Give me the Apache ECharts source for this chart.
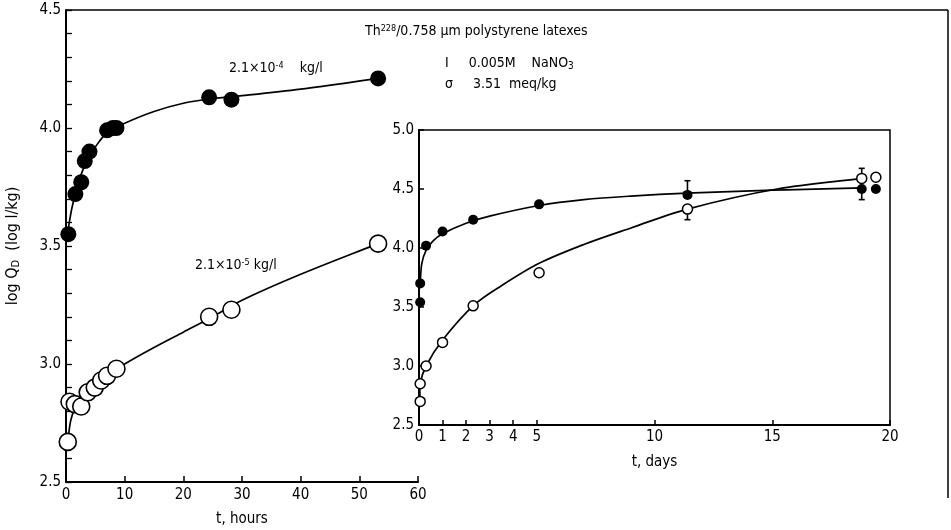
<!DOCTYPE html>
<html>
<head>
<meta charset="utf-8">
<script src="https://cdn.jsdelivr.net/npm/echarts@6/dist/echarts.min.js"></script>
<style>
html,body{margin:0;padding:0;background:#fff;}
#chart{width:951px;height:530px;}
</style>
</head>
<body>
<div id="chart"></div>
<script>
// ---------- Main plot (t, hours) ----------
const mainFilledPts = [[0.4,3.55],[1.6,3.72],[2.6,3.77],[3.2,3.86],[4.0,3.90],[7.0,3.99],[8.0,4.00],[8.6,4.00],[24.4,4.13],[28.2,4.12],[53.2,4.21]];
const mainOpenPts = [[0.3,2.67],[0.6,2.84],[1.5,2.83],[2.6,2.82],[3.7,2.88],[4.9,2.90],[6.0,2.93],[7.0,2.95],[8.6,2.98],[24.4,3.20],[28.2,3.23],[53.2,3.51]];
const mainFilledCurve = [[0.3,3.56],[1,3.66],[2,3.76],[3,3.83],[4,3.88],[5,3.92],[7,3.98],[10,4.02],[15,4.07],[20,4.105],[25,4.125],[30,4.137],[40,4.165],[53.2,4.21]];
const mainOpenCurve = [[0.3,2.67],[0.8,2.76],[1.5,2.81],[3,2.86],[5,2.905],[7,2.95],[10,3.0],[15,3.07],[20,3.135],[25,3.2],[30,3.27],[40,3.38],[53.2,3.51]];
const mainXTicks = [0,10,20,30,40,50,60];
const mainYTicks = [2.5,3.0,3.5,4.0,4.5];

// ---------- Inset plot (t, days) ----------
const insetFilledPts = [[0.05,3.54],[0.05,3.70],[0.3,4.02],[1.0,4.14],[2.3,4.24],[5.1,4.37],[11.4,4.45],[18.8,4.50],[19.4,4.50]];
const insetOpenPts = [[0.05,2.70],[0.05,2.85],[0.3,3.00],[1.0,3.20],[2.3,3.51],[5.1,3.79],[11.4,4.33],[18.8,4.59],[19.4,4.60]];
const insetFilledCurve = [[0.05,3.70],[0.12,3.87],[0.3,3.98],[0.6,4.06],[1,4.12],[2,4.21],[3,4.27],[5.1,4.36],[7,4.41],[9,4.44],[11.4,4.465],[15,4.49],[18.8,4.51]];
const insetOpenCurve = [[0.05,2.70],[0.05,2.85],[0.3,3.0],[1.0,3.22],[2.3,3.51],[3.5,3.68],[5.1,3.87],[7,4.03],[9,4.17],[11.4,4.33],[15.2,4.50],[18.8,4.59]];
const insetFilledErr = [[11.4,4.45,4.57],[18.8,4.41,4.50]];
const insetOpenErr = [[11.4,4.24,4.33],[18.8,4.59,4.675]];
const insetXTicks = [0,1,2,3,4,5,10,15,20];
const insetYTicks = [2.5,3.0,3.5,4.0,4.5,5.0];

const FONT = "'Liberation Sans Narrow','DejaVu Sans Condensed','Liberation Sans',sans-serif";
const chart = echarts.init(document.getElementById('chart'), null, {renderer:'canvas'});

function errRender(params, api){
  const x = api.value(0), lo = api.value(1), hi = api.value(2);
  const p1 = api.coord([x, lo]), p2 = api.coord([x, hi]);
  const st = {stroke:'#000', lineWidth:1.6};
  return {type:'group', children:[
    {type:'line', shape:{x1:p1[0],y1:p1[1],x2:p2[0],y2:p2[1]}, style:st},
    {type:'line', shape:{x1:p1[0]-3,y1:p1[1],x2:p1[0]+3,y2:p1[1]}, style:st},
    {type:'line', shape:{x1:p2[0]-3,y1:p2[1],x2:p2[0]+3,y2:p2[1]}, style:st}
  ]};
}

// smooth curve through the read-off curve points, converted with the axis scales
function curveRender(arr){
  return function(params, api){
    if (params.dataIndex !== 0) return null;
    const P = arr.map(d => api.coord(d));
    const n = P.length;
    const T = P.map((p,i) => {
      const a = P[Math.max(0,i-1)], b = P[Math.min(n-1,i+1)];
      const dx = b[0]-a[0], dy = b[1]-a[1];
      const L = Math.hypot(dx,dy) || 1;
      return [dx/L, dy/L];
    });
    let d = 'M' + P[0][0] + ' ' + P[0][1];
    for (let i=0;i<n-1;i++){
      const len = Math.hypot(P[i+1][0]-P[i][0], P[i+1][1]-P[i][1]) / 3;
      const c1 = [P[i][0]+T[i][0]*len, P[i][1]+T[i][1]*len];
      const c2 = [P[i+1][0]-T[i+1][0]*len, P[i+1][1]-T[i+1][1]*len];
      d += ' C' + c1[0] + ' ' + c1[1] + ' ' + c2[0] + ' ' + c2[1] + ' ' + P[i+1][0] + ' ' + P[i+1][1];
    }
    return {type:'path', shape:{pathData:d}, style:{fill:null, stroke:'#000', lineWidth:1.7}};
  };
}

const axisLbl = {color:'#000', fontFamily:FONT, fontSize:15};

chart.setOption({
  animation:false,
  backgroundColor:'#fff',
  textStyle:{fontFamily:FONT},
  grid:[
    {left:66, top:10, width:352, height:472, show:false, containLabel:false, outerBoundsMode:'none'},
    {left:419, top:130, width:471, height:295, show:true, backgroundColor:'#fff', borderColor:'#000', borderWidth:1.5, containLabel:false, outerBoundsMode:'none'}
  ],
  xAxis:[
    {type:'value', gridIndex:0, min:0, max:60, interval:10,
     name:'t, hours', nameLocation:'middle', nameGap:30,
     nameTextStyle:{color:'#000', fontFamily:FONT, fontSize:15},
     axisLine:{lineStyle:{color:'#000', width:2}},
     axisTick:{inside:true, length:6, lineStyle:{color:'#000', width:1.5}, customValues:mainXTicks},
     axisLabel:Object.assign({margin:6, customValues:mainXTicks}, axisLbl),
     splitLine:{show:false}},
    {type:'value', gridIndex:1, min:0, max:20, interval:5,
     name:'t, days', nameLocation:'middle', nameGap:30,
     nameTextStyle:{color:'#000', fontFamily:FONT, fontSize:15},
     axisLine:{lineStyle:{color:'#000', width:2}},
     axisTick:{inside:true, length:5, lineStyle:{color:'#000', width:1.5}, customValues:insetXTicks},
     axisLabel:Object.assign({margin:5, customValues:insetXTicks}, axisLbl),
     splitLine:{show:false}}
  ],
  yAxis:[
    {type:'value', gridIndex:0, min:2.5, max:4.5, interval:0.5,
     name:'{a|log Q}{s|D}{a|  (log l/kg)}', nameLocation:'middle', nameGap:44, nameRotate:90,
     nameTextStyle:{rich:{a:{color:'#000', fontFamily:FONT, fontSize:16}, s:{color:'#000', fontFamily:FONT, fontSize:11, verticalAlign:'bottom', padding:[7,0,0,0]}}},
     axisLine:{lineStyle:{color:'#000', width:2}},
     axisTick:{inside:true, length:6, lineStyle:{color:'#000', width:1.3}},
     minorTick:{show:true, splitNumber:5, length:6, lineStyle:{color:'#000', width:1.3}},
     axisLabel:Object.assign({margin:5, formatter:v=>v.toFixed(1), customValues:mainYTicks}, axisLbl),
     splitLine:{show:false}, minorSplitLine:{show:false}},
    {type:'value', gridIndex:1, min:2.5, max:5.0, interval:0.5,
     axisLine:{lineStyle:{color:'#000', width:2}},
     axisTick:{inside:true, length:5, lineStyle:{color:'#000', width:1.5}},
     axisLabel:Object.assign({margin:5, formatter:v=>v.toFixed(1), customValues:insetYTicks}, axisLbl),
     splitLine:{show:false}}
  ],
  series:[
    {type:'custom', xAxisIndex:0, yAxisIndex:0, data:mainFilledCurve, renderItem:curveRender(mainFilledCurve), z:2},
    {type:'custom', xAxisIndex:0, yAxisIndex:0, data:mainOpenCurve, renderItem:curveRender(mainOpenCurve), z:2},
    {type:'scatter', xAxisIndex:0, yAxisIndex:0, data:mainFilledPts, symbol:'circle', symbolSize:16, itemStyle:{color:'#000', opacity:1}, z:3},
    {type:'scatter', xAxisIndex:0, yAxisIndex:0, data:mainOpenPts, symbol:'circle', symbolSize:17, itemStyle:{color:'#fff', borderColor:'#000', borderWidth:1.6, opacity:1}, z:3},
    {type:'custom', xAxisIndex:1, yAxisIndex:1, data:insetFilledCurve, renderItem:curveRender(insetFilledCurve), z:2},
    {type:'custom', xAxisIndex:1, yAxisIndex:1, data:insetOpenCurve, renderItem:curveRender(insetOpenCurve), z:2},
    {type:'custom', xAxisIndex:1, yAxisIndex:1, data:insetFilledErr, renderItem:errRender, z:2},
    {type:'custom', xAxisIndex:1, yAxisIndex:1, data:insetOpenErr, renderItem:errRender, z:2},
    {type:'scatter', xAxisIndex:1, yAxisIndex:1, data:insetFilledPts, symbol:'circle', symbolSize:10, itemStyle:{color:'#000', opacity:1}, z:3},
    {type:'scatter', xAxisIndex:1, yAxisIndex:1, data:insetOpenPts, symbol:'circle', symbolSize:10, itemStyle:{color:'#fff', borderColor:'#000', borderWidth:1.5, opacity:1}, z:3}
  ],
  graphic:[
    {type:'line', shape:{x1:66, y1:10, x2:948, y2:10}, style:{stroke:'#000', lineWidth:1.5}, z:1},
    {type:'line', shape:{x1:948, y1:10, x2:948, y2:498}, style:{stroke:'#000', lineWidth:1.5}, z:1},
    {type:'text', left:365, top:24, z:5, style:{text:'Th{sup|228}/0.758 μm polystyrene latexes', font:'14px '+FONT, fill:'#000',
      rich:{sup:{fontSize:9, fontFamily:FONT, verticalAlign:'top', padding:[0,0,6,0], fill:'#000'}}}},
    {type:'text', left:445, top:56, z:5, style:{text:'I     0.005M    NaNO{sub|3}', font:'14px '+FONT, fill:'#000',
      rich:{sub:{fontSize:10, fontFamily:FONT, verticalAlign:'bottom', padding:[6,0,0,0], fill:'#000'}}}},
    {type:'text', left:445, top:77, z:5, style:{text:'σ     3.51  meq/kg', font:'14px '+FONT, fill:'#000'}},
    {type:'text', left:229, top:61, z:5, style:{text:'2.1×10{sup|-4}    kg/l', font:'14px '+FONT, fill:'#000',
      rich:{sup:{fontSize:9, fontFamily:FONT, verticalAlign:'top', padding:[0,0,6,0], fill:'#000'}}}},
    {type:'text', left:195, top:258, z:5, style:{text:'2.1×10{sup|-5} kg/l', font:'14px '+FONT, fill:'#000',
      rich:{sup:{fontSize:9, fontFamily:FONT, verticalAlign:'top', padding:[0,0,6,0], fill:'#000'}}}}
  ]
});
</script>
</body>
</html>
